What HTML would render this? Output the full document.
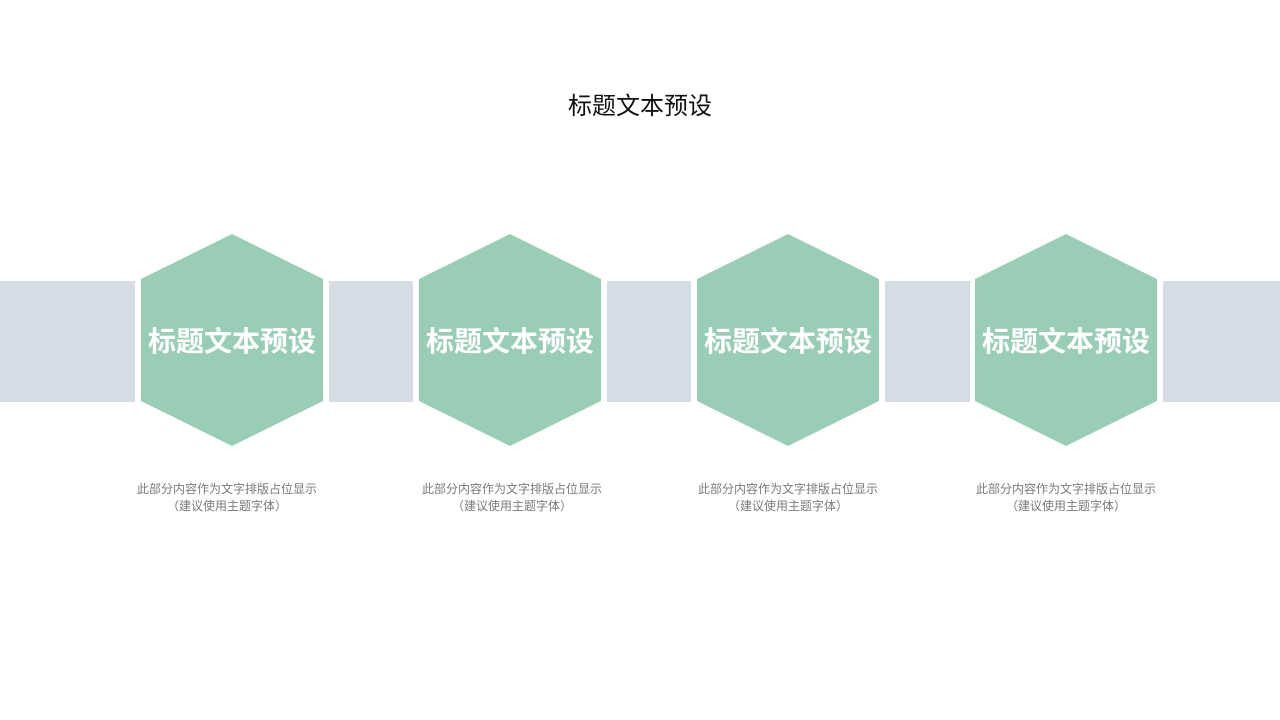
<!DOCTYPE html>
<html><head><meta charset="utf-8"><style>
body{margin:0;width:1280px;height:720px;background:#fff;position:relative;overflow:hidden;font-family:"Liberation Sans","Noto Sans CJK SC",sans-serif}
.r{position:absolute;top:281px;height:121px;background:#d6dce6}
.t{position:absolute;width:300px;text-align:center;font-size:12px;color:#7a7a7a;line-height:17px;top:481px}
.h{position:absolute;top:321px;width:200px;text-align:center;color:#fff;font-weight:bold;font-size:28px;line-height:42px}
</style></head><body>
<div style="position:absolute;top:86px;width:1280px;text-align:center;font-size:24px;color:#111">标题文本预设</div>
<div class="r" style="left:0;width:135px"></div>
<div class="r" style="left:329px;width:84px"></div>
<div class="r" style="left:607px;width:84px"></div>
<div class="r" style="left:885px;width:85px"></div>
<div class="r" style="left:1163px;width:117px"></div>
<svg width="1280" height="720" style="position:absolute;left:0;top:0">
<g fill="#99cdb6">
<polygon points="232,234 323,279 323,401 232,446 141,401 141,279"/>
<polygon points="510,234 601,279 601,401 510,446 419,401 419,279"/>
<polygon points="788,234 879,279 879,401 788,446 697,401 697,279"/>
<polygon points="1066,234 1157,279 1157,401 1066,446 975,401 975,279"/>
</g></svg>
<div class="h" style="left:132px">标题文本预设</div>
<div class="h" style="left:410px">标题文本预设</div>
<div class="h" style="left:688px">标题文本预设</div>
<div class="h" style="left:966px">标题文本预设</div>
<div class="t" style="left:77px">此部分内容作为文字排版占位显示<br>（建议使用主题字体）</div>
<div class="t" style="left:362px">此部分内容作为文字排版占位显示<br>（建议使用主题字体）</div>
<div class="t" style="left:638px">此部分内容作为文字排版占位显示<br>（建议使用主题字体）</div>
<div class="t" style="left:916px">此部分内容作为文字排版占位显示<br>（建议使用主题字体）</div>
</body></html>
